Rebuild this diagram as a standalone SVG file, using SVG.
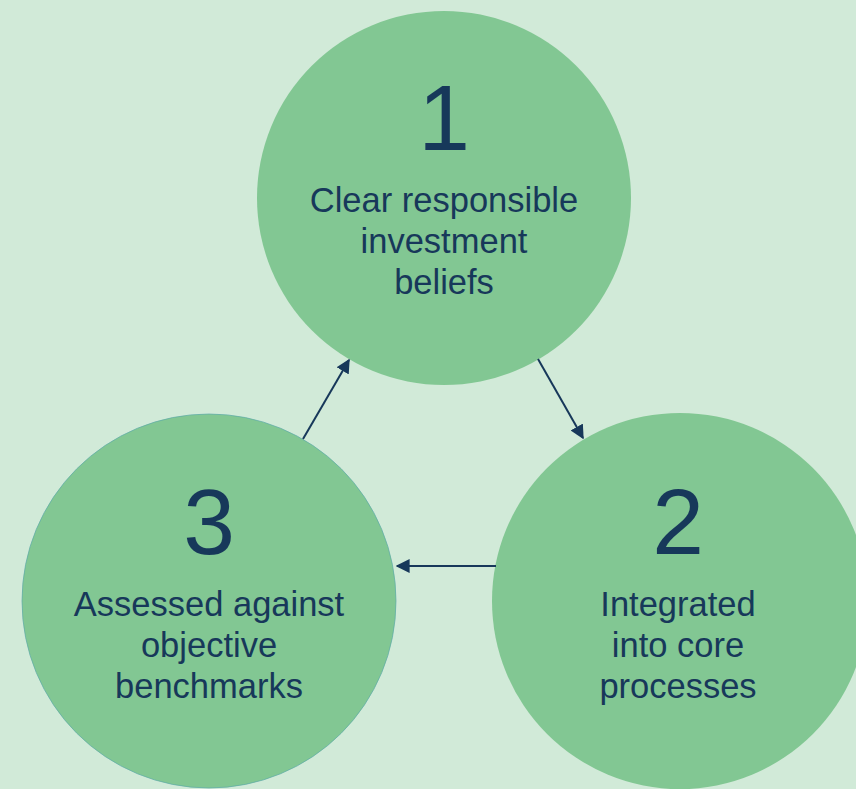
<svg xmlns="http://www.w3.org/2000/svg" width="856" height="789" viewBox="0 0 856 789">
<defs>
<style>
.c{fill:#82C793}
.n{font-family:"Liberation Sans",Arial,sans-serif;font-size:93px;fill:#17385A;text-anchor:middle}
.t{font-family:"Liberation Sans",Arial,sans-serif;font-size:34.5px;fill:#17385A;text-anchor:middle}
.a{stroke:#17385A;stroke-width:2;fill:none;marker-end:url(#ah)}
</style>
<marker id="ah" viewBox="0 0 10 10" refX="9" refY="5" markerWidth="14" markerHeight="14" orient="auto" markerUnits="userSpaceOnUse">
<path d="M0,0 L10,5 L0,10 z" fill="#17385A"/>
</marker>
</defs>
<rect width="856" height="789" fill="#D1EAD8"/>
<g id="node1">
<circle class="c" cx="444" cy="198" r="187"/>
<text class="n" x="444" y="150">1</text>
<text class="t" x="444" y="212">Clear responsible</text>
<text class="t" x="444" y="253">investment</text>
<text class="t" x="444" y="294">beliefs</text>
</g>
<g id="node2">
<circle class="c" cx="680" cy="601" r="188"/>
<text class="n" x="678" y="554">2</text>
<text class="t" x="678" y="616">Integrated</text>
<text class="t" x="678" y="657">into core</text>
<text class="t" x="678" y="698">processes</text>
</g>
<g id="node3">
<circle class="c" cx="209" cy="601" r="187" stroke="#5BA9A8" stroke-width="0.7"/>
<text class="n" x="209" y="554">3</text>
<text class="t" x="209" y="616">Assessed against</text>
<text class="t" x="209" y="657">objective</text>
<text class="t" x="209" y="698">benchmarks</text>
</g>
<g id="connectors">
<line class="a" x1="303" y1="439" x2="349" y2="360"/>
<line class="a" x1="538" y1="359" x2="583" y2="438"/>
<line class="a" x1="496" y1="566" x2="397" y2="566"/>
</g>
</svg>
